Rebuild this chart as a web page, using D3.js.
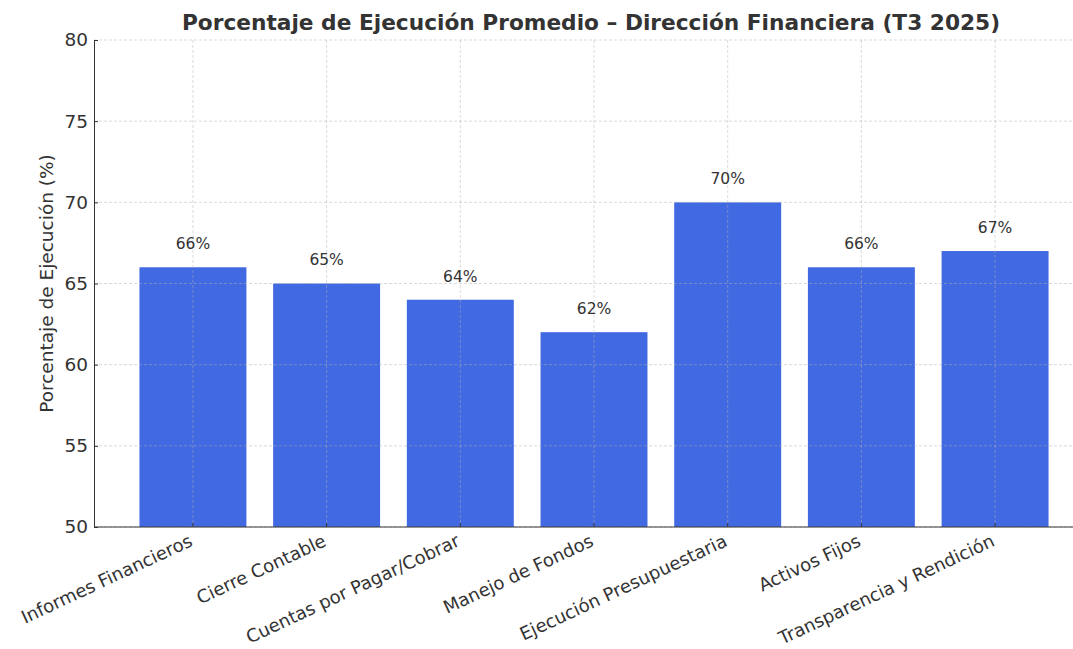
<!DOCTYPE html>
<html>
<head>
<meta charset="utf-8">
<script src="https://cdn.jsdelivr.net/npm/d3@7"></script>
<style>
  body { margin: 0; background: #fff; }
  svg { font-family: "DejaVu Sans", sans-serif; }
</style>
</head>
<body>
<div id="chart"></div>
<script>
const categories = ["Informes Financieros", "Cierre Contable", "Cuentas por Pagar/Cobrar",
  "Manejo de Fondos", "Ejecución Presupuestaria", "Activos Fijos", "Transparencia y Rendición"];
const values = [66, 65, 64, 62, 70, 66, 67];
const yTicks = [50, 55, 60, 65, 70, 75, 80];

const width = 1073, height = 649;
// axes box (right side runs past the picture edge, like the original crop)
const margin = { left: 94, top: 40, right: -21, bottom: 122 };
const innerW = width - margin.left - margin.right;
const innerH = height - margin.top - margin.bottom;
const ink = "#333333";

const svg = d3.select("#chart").append("svg")
  .attr("width", width)
  .attr("height", height);

const g = svg.append("g")
  .attr("transform", "translate(" + margin.left + "," + margin.top + ")");

// x is categorical; bars are 0.8 wide with matplotlib-like 5% margins
const xIdx = d3.scaleLinear().domain([-0.74, categories.length - 1 + 0.74]).range([0, innerW]);
const y = d3.scaleLinear().domain([50, 80]).range([innerH, 0]);
const barW = xIdx(0.8) - xIdx(0);

// bars
g.selectAll("rect.bar")
  .data(values)
  .enter().append("rect")
  .attr("class", "bar")
  .attr("x", (d, i) => xIdx(i) - barW / 2)
  .attr("y", d => y(d))
  .attr("width", barW)
  .attr("height", d => innerH - y(d))
  .attr("fill", "#4169E1");

// grid on top of bars
const grid = g.append("g").attr("stroke", "#b0b0b0").attr("stroke-opacity", 0.6)
  .attr("stroke-dasharray", "3,2").attr("stroke-width", 0.8);
grid.selectAll("line.hy").data(yTicks).enter().append("line")
  .attr("x1", 0).attr("x2", innerW)
  .attr("y1", d => y(d)).attr("y2", d => y(d));
grid.selectAll("line.vx").data(categories).enter().append("line")
  .attr("x1", (d, i) => xIdx(i)).attr("x2", (d, i) => xIdx(i))
  .attr("y1", 0).attr("y2", innerH);

// value labels
g.selectAll("text.val")
  .data(values)
  .enter().append("text")
  .attr("class", "val")
  .attr("x", (d, i) => xIdx(i))
  .attr("y", d => y(d + 1) - 2)
  .attr("text-anchor", "middle")
  .attr("font-size", 15.5)
  .attr("fill", ink)
  .text(d => d + "%");

// y axis
const yAxis = g.append("g")
  .call(d3.axisLeft(y).tickValues(yTicks).tickSizeInner(-4).tickSizeOuter(0).tickPadding(6));
yAxis.select(".domain").attr("stroke", ink);
yAxis.selectAll(".tick line").attr("stroke", ink);
yAxis.selectAll(".tick text").attr("font-size", 18.5).attr("fill", ink)
  .attr("font-family", "DejaVu Sans, sans-serif");

// x axis
const xAxisG = g.append("g").attr("transform", "translate(0," + innerH + ")");
xAxisG.append("line").attr("x1", 0).attr("x2", innerW).attr("stroke", ink);
xAxisG.selectAll("line.tk").data(categories).enter().append("line")
  .attr("x1", (d, i) => xIdx(i)).attr("x2", (d, i) => xIdx(i))
  .attr("y1", 0).attr("y2", -4).attr("stroke", ink);
xAxisG.selectAll("text").data(categories).enter().append("text")
  .attr("transform", (d, i) => "translate(" + (xIdx(i) - 5) + ",6) rotate(-25)")
  .attr("text-anchor", "end")
  .attr("dy", "0.75em")
  .attr("font-size", 18)
  .attr("fill", ink)
  .text(d => d);

// y axis label
svg.append("text")
  .attr("transform", "translate(53," + (margin.top + innerH / 2) + ") rotate(-90)")
  .attr("text-anchor", "middle")
  .attr("font-size", 18.5)
  .attr("fill", ink)
  .text("Porcentaje de Ejecución (%)");

// title
svg.append("text")
  .attr("x", 591)
  .attr("y", 30)
  .attr("text-anchor", "middle")
  .attr("font-size", 21.7)
  .attr("font-weight", "bold")
  .attr("fill", ink)
  .text("Porcentaje de Ejecución Promedio – Dirección Financiera (T3 2025)");
</script>
</body>
</html>
